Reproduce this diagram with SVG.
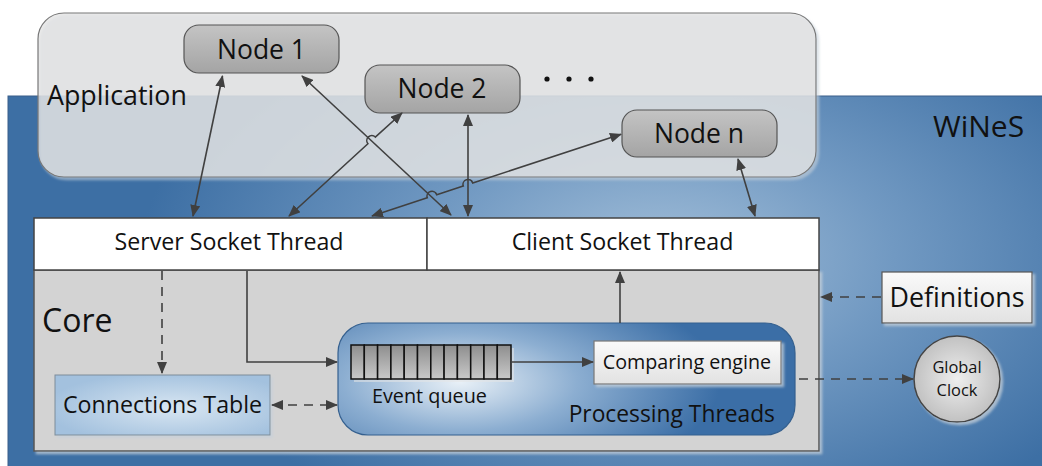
<svg xmlns="http://www.w3.org/2000/svg" width="1042" height="466" viewBox="0 0 1042 466">
  <defs>
    <radialGradient id="bgBlue" gradientUnits="userSpaceOnUse" cx="660" cy="260" r="520" gradientTransform="translate(660 260) scale(1 0.55) translate(-660 -260)">
      <stop offset="0" stop-color="#a3bfd9"/>
      <stop offset="0.45" stop-color="#7199c2"/>
      <stop offset="1" stop-color="#3d6fa4"/>
    </radialGradient>
    <radialGradient id="procFill" gradientUnits="userSpaceOnUse" cx="460" cy="382" r="260" gradientTransform="translate(460 382) scale(1 0.42) translate(-460 -382)">
      <stop offset="0" stop-color="#e8f0f7"/>
      <stop offset="0.45" stop-color="#8caed1"/>
      <stop offset="1" stop-color="#3b6ea6"/>
    </radialGradient>
    <radialGradient id="tableFill" cx="0.55" cy="0.55" r="0.6">
      <stop offset="0" stop-color="#d8e6f2"/>
      <stop offset="1" stop-color="#a3c1de"/>
    </radialGradient>
    <linearGradient id="nodeFill" x1="0" y1="0" x2="0" y2="1">
      <stop offset="0" stop-color="#c4c4c4"/>
      <stop offset="1" stop-color="#a4a4a4"/>
    </linearGradient>
    <linearGradient id="boxFill" x1="0" y1="0" x2="0" y2="1">
      <stop offset="0" stop-color="#fafafa"/>
      <stop offset="1" stop-color="#e2e2e2"/>
    </linearGradient>
    <linearGradient id="cellFill" x1="0" y1="0" x2="0" y2="1">
      <stop offset="0" stop-color="#8e8e8e"/>
      <stop offset="1" stop-color="#c9c9c9"/>
    </linearGradient>
    <radialGradient id="clockFill" cx="0.5" cy="0.5" r="0.55">
      <stop offset="0" stop-color="#eeeeee"/>
      <stop offset="1" stop-color="#bdbdbd"/>
    </radialGradient>
    <filter id="shadow" x="-10%" y="-10%" width="125%" height="130%">
      <feDropShadow dx="2.5" dy="2.5" stdDeviation="0.8" flood-color="#c6d0da" flood-opacity="0.75"/>
    </filter>
    <marker id="arrow" viewBox="0 0 12 10" refX="11" refY="5" markerWidth="12" markerHeight="10" markerUnits="userSpaceOnUse" orient="auto-start-reverse">
      <path d="M0,0 L12,5 L0,10 z" fill="#404040"/>
    </marker>
    <style>
      .lbl { font-family: "Open Sans", "Noto Sans", "Liberation Sans", sans-serif; fill: #111; }
      .mid { text-anchor: middle; }
      .node { fill: url(#nodeFill); stroke: #555; stroke-width: 1.2; }
      .conn { fill: none; stroke: #404040; stroke-width: 1.6; }
      .dash { stroke-dasharray: 9 7; }
    </style>
  </defs>

  <!-- page -->
  <rect x="0" y="0" width="1042" height="466" fill="#ffffff"/>

  <!-- WiNeS system area -->
  <g id="wines">
    <rect x="8" y="96" width="1040" height="380" fill="url(#bgBlue)" stroke="#3a5f8a" stroke-width="1"/>
    <text class="lbl" x="933" y="137" font-size="30">WiNeS</text>
  </g>

  <!-- Application layer -->
  <g id="application">
    <rect x="38" y="13" width="778" height="164" rx="26" fill="#e2e2e2" fill-opacity="0.74" stroke="#777" stroke-width="1.2" filter="url(#shadow)"/>
    <text class="lbl" x="47" y="105" font-size="26.8">Application</text>
    <circle cx="547" cy="79" r="2.6" fill="#111"/>
    <circle cx="569" cy="79" r="2.6" fill="#111"/>
    <circle cx="591" cy="79" r="2.6" fill="#111"/>
  </g>

  <g id="node1">
    <rect class="node" x="184" y="25" width="155" height="48" rx="15"/>
    <text class="lbl mid" x="261.5" y="59" font-size="26.5">Node 1</text>
  </g>
  <g id="node2">
    <rect class="node" x="365" y="65" width="155" height="48" rx="15"/>
    <text class="lbl mid" x="442" y="98" font-size="26.5">Node 2</text>
  </g>
  <g id="noden">
    <rect class="node" x="622" y="110" width="155" height="47" rx="15"/>
    <text class="lbl mid" x="699" y="143" font-size="26.5">Node n</text>
  </g>

  <!-- Core -->
  <g id="core">
    <rect x="34" y="270" width="785" height="181" fill="#d3d3d3" stroke="#555" stroke-width="1.5" filter="url(#shadow)"/>
    <text class="lbl" x="42" y="332" font-size="32">Core</text>
  </g>

  <g id="server-socket">
    <rect x="34" y="218" width="393" height="52" fill="#ffffff" stroke="#444" stroke-width="1.5"/>
    <text class="lbl mid" x="229" y="250" font-size="23.2">Server Socket Thread</text>
  </g>
  <g id="client-socket">
    <rect x="427" y="218" width="392" height="52" fill="#ffffff" stroke="#444" stroke-width="1.5"/>
    <text class="lbl mid" x="622.5" y="250" font-size="23.2">Client Socket Thread</text>
  </g>

  <g id="connections-table">
    <rect x="55" y="375" width="215" height="60" fill="url(#tableFill)" stroke="#7d8c9a" stroke-width="1" filter="url(#shadow)"/>
    <text class="lbl mid" x="162.5" y="413" font-size="23.2">Connections Table</text>
  </g>

  <g id="processing-threads">
    <rect x="338" y="323" width="457" height="112" rx="30" fill="url(#procFill)" stroke="#35608f" stroke-width="1.2"/>
    <text class="lbl" x="775" y="422" font-size="22.8" text-anchor="end">Processing Threads</text>
  </g>

  <g id="event-queue">
    <!-- soft offset behind the cells -->
    <rect x="354" y="348" width="160" height="34" fill="#e6e6e6" fill-opacity="0.55"/>
    <g fill="url(#cellFill)" stroke="#111" stroke-width="1.5">
      <rect x="351" y="345" width="13.3" height="34"/>
      <rect x="364.3" y="345" width="13.3" height="34"/>
      <rect x="377.6" y="345" width="13.3" height="34"/>
      <rect x="390.9" y="345" width="13.3" height="34"/>
      <rect x="404.2" y="345" width="13.3" height="34"/>
      <rect x="417.5" y="345" width="13.3" height="34"/>
      <rect x="430.8" y="345" width="13.3" height="34"/>
      <rect x="444.1" y="345" width="13.3" height="34"/>
      <rect x="457.4" y="345" width="13.3" height="34"/>
      <rect x="470.7" y="345" width="13.3" height="34"/>
      <rect x="484" y="345" width="13.3" height="34"/>
      <rect x="497.3" y="345" width="13.7" height="34"/>
    </g>
    <text class="lbl" x="372" y="403" font-size="19.8">Event queue</text>
  </g>

  <g id="comparing-engine">
    <rect x="594" y="341" width="187" height="43" fill="url(#boxFill)" stroke="#777" stroke-width="1.2" filter="url(#shadow)"/>
    <text class="lbl mid" x="687" y="369" font-size="19.7">Comparing engine</text>
  </g>

  <g id="definitions">
    <rect x="882" y="272" width="150" height="51" fill="url(#boxFill)" stroke="#555" stroke-width="1.2" filter="url(#shadow)"/>
    <text class="lbl mid" x="957" y="307" font-size="26.8">Definitions</text>
  </g>

  <g id="global-clock">
    <circle cx="957" cy="379" r="43" fill="url(#clockFill)" stroke="#444" stroke-width="1.5" filter="url(#shadow)"/>
    <text class="lbl mid" x="957" y="373" font-size="16.4">Global</text>
    <text class="lbl mid" x="957" y="396" font-size="16.4">Clock</text>
  </g>

  <!-- connectors -->
  <g id="connectors">
    <!-- Node 1 <-> Server Socket Thread -->
    <path class="conn" d="M222.5 76 L193 216" marker-start="url(#arrow)" marker-end="url(#arrow)"/>
    <!-- Node 1 <-> Client Socket Thread -->
    <path class="conn" d="M302 76 L451 215" marker-start="url(#arrow)" marker-end="url(#arrow)"/>
    <!-- Node 2 <-> Server Socket Thread (hops over Node 1 line) -->
    <path class="conn" d="M289 216 L367.9 143.75 A5 5 0 0 1 375.3 137.05 L402 113" marker-start="url(#arrow)" marker-end="url(#arrow)"/>
    <!-- Node 2 <-> Client Socket Thread -->
    <path class="conn" d="M468 115 L468 216" marker-start="url(#arrow)" marker-end="url(#arrow)"/>
    <!-- Node n <-> Server Socket Thread (hops over two lines) -->
    <path class="conn" d="M372 216 L427.25 197.86 A5 5 0 0 1 436.75 194.74 L463.25 186.06 A5 5 0 0 1 472.75 182.94 L621 134.3" marker-start="url(#arrow)" marker-end="url(#arrow)"/>
    <!-- Node n <-> Client Socket Thread -->
    <path class="conn" d="M738 159 L755 216" marker-start="url(#arrow)" marker-end="url(#arrow)"/>

    <!-- Server Socket Thread -> Connections Table -->
    <path class="conn dash" d="M162 271 L162 373" marker-end="url(#arrow)"/>
    <!-- Server Socket Thread -> Processing Threads -->
    <path class="conn" d="M247 271 L247 362 L337 362" marker-end="url(#arrow)"/>
    <!-- Connections Table <-> Processing Threads -->
    <path class="conn dash" d="M272 405 L337 405" stroke-dasharray="10 8" marker-start="url(#arrow)" marker-end="url(#arrow)"/>
    <!-- Event queue -> Comparing engine -->
    <path class="conn" d="M512 362 L593 362" marker-end="url(#arrow)"/>
    <!-- Processing Threads -> Client Socket Thread -->
    <path class="conn" d="M620 323 L620 272" marker-end="url(#arrow)"/>
    <!-- Definitions -> Core -->
    <path class="conn dash" d="M881 297 L821 297" marker-end="url(#arrow)"/>
    <!-- Processing Threads -> Global Clock -->
    <path class="conn dash" d="M799 379 L913 379" marker-end="url(#arrow)"/>
  </g>
</svg>
